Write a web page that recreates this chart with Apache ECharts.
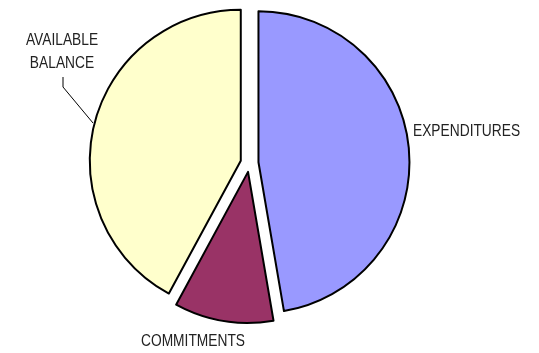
<!DOCTYPE html>
<html>
<head>
<meta charset="utf-8">
<script src="https://cdn.jsdelivr.net/npm/echarts@6/dist/echarts.min.js"></script>
<style>
  html, body { margin: 0; padding: 0; background: #fff; }
  #chart { width: 539px; height: 353px; }
</style>
</head>
<body>
<div id="chart"></div>
<script>
// Budget breakdown: share of funds spent, committed and still available
const categories = ['EXPENDITURES', 'COMMITMENTS', 'AVAILABLE\nBALANCE'];
const shares = [47.3, 10.6, 42.1];
const sliceColors = ['#9999FF', '#993366', '#FFFFCC'];

// Where each category label sits
const labelSpots = [
  { x: 413, y: 131, align: 'left' },
  { x: 193, y: 341, align: 'center' },
  { x: 62, y: 52, align: 'center' }
];
// Leader line from the balance label to its slice
const balanceLeader = [[63, 77], [63, 87], [93, 123]];

const chart = echarts.init(document.getElementById('chart'), null, { renderer: 'canvas' });

// Condensed caption lettering: a regular sans face squeezed horizontally
const labelTexts = categories.map((name, i) => ({
  type: 'text',
  x: labelSpots[i].x,
  y: labelSpots[i].y,
  scaleX: 0.81,
  silent: true,
  style: {
    text: name,
    fill: '#222',
    font: '17px "Liberation Sans", Arial, sans-serif',
    lineHeight: 23,
    align: labelSpots[i].align,
    verticalAlign: 'middle'
  }
}));

chart.setOption({
  animation: false,
  backgroundColor: '#ffffff',
  series: [{
    type: 'pie',
    center: [249.5, 163],
    radius: 151,
    startAngle: 90,
    clockwise: true,
    selectedMode: 'multiple',
    selectedOffset: 9,
    silent: true,
    emphasis: { disabled: true },
    itemStyle: { borderColor: '#000', borderWidth: 2 },
    select: { itemStyle: { borderColor: '#000', borderWidth: 2 } },
    label: { show: false },
    labelLine: { show: false },
    data: categories.map((name, i) => ({
      name: name,
      value: shares[i],
      selected: true,
      itemStyle: { color: sliceColors[i] }
    }))
  }],
  graphic: labelTexts.concat([{
    type: 'polyline',
    silent: true,
    shape: { points: balanceLeader },
    style: { stroke: '#000', lineWidth: 1, fill: null }
  }])
});
</script>
</body>
</html>
